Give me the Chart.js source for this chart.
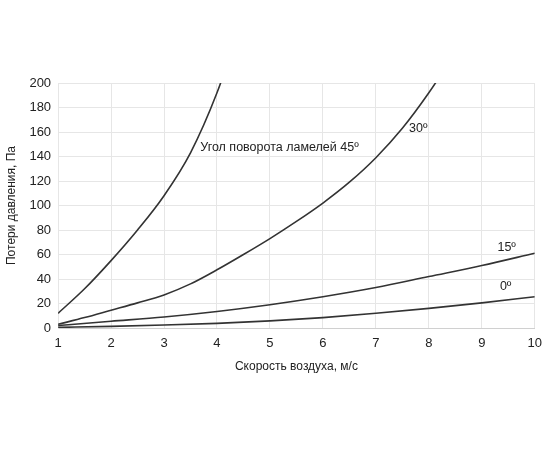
<!DOCTYPE html>
<html><head><meta charset="utf-8">
<script src="https://cdn.jsdelivr.net/npm/chart.js@4/dist/chart.umd.min.js"></script>
<style>html,body{margin:0;padding:0;background:#fff}#wrap{width:550px;height:450px}</style>
</head><body><div id="wrap"><canvas id="c"></canvas></div>
<script>
const xTicks = [1,2,3,4,5,6,7,8,9,10];
const yTicks = [0,20,40,60,80,100,120,140,160,180,200];

const x45 = [1, 1.5, 2, 2.5, 3, 3.5, 4, 4.5];
const y45 = [12, 32, 55, 80, 108, 143, 192, 255];

const x30 = [1, 1.5, 2, 2.5, 3, 3.5, 4, 4.5, 5, 5.5, 6, 6.5, 7, 7.5, 8, 8.5];
const y30 = [3, 8.5, 14.5, 20.5, 27, 36, 47.5, 60, 73, 87, 102, 119, 139, 163, 192, 225];

const x15 = [1, 2, 3, 4, 5, 6, 7, 8, 9, 10];
const y15 = [2, 5.5, 9, 13.5, 19, 25.5, 33, 42, 51, 61];

const x0 = [1, 2, 3, 4, 5, 6, 7, 8, 9, 10];
const y0 = [0.5, 1.3, 2.4, 3.8, 5.8, 8.5, 12, 16, 20.5, 25.5];

const curveLabels = ["Угол поворота ламелей 45º", "30º", "15º", "0º"];
const labelX = [5.18, 7.8, 9.47, 9.45];
const labelY = [147, 163, 66, 34];

const xTitle = "Скорость воздуха, м/с";
const yTitle = "Потери давления, Па";

const FONT = '"Liberation Sans", Arial, sans-serif';
function pts(xs, ys){ return xs.map((x,i)=>({x:x, y:ys[i]})); }
const lineStyle = {borderColor:'#333', borderWidth:1.6, pointRadius:0, fill:false, showLine:true, cubicInterpolationMode:'monotone'};

const labelPlugin = {
  id:'curveLabels',
  afterDatasetsDraw(chart){
    const ctx = chart.ctx, xs = chart.scales.x, ys = chart.scales.y;
    ctx.save();
    ctx.fillStyle = '#222';
    ctx.font = '12.5px ' + FONT;
    ctx.textAlign = 'center';
    ctx.textBaseline = 'middle';
    curveLabels.forEach((t,i)=>{
      ctx.fillText(t, xs.getPixelForValue(labelX[i]), ys.getPixelForValue(labelY[i]));
    });
    ctx.restore();
  }
};

new Chart(document.getElementById('c'), {
  type:'scatter',
  data:{datasets:[
    Object.assign({data:pts(x45,y45)}, lineStyle),
    Object.assign({data:pts(x30,y30)}, lineStyle),
    Object.assign({data:pts(x15,y15)}, lineStyle),
    Object.assign({data:pts(x0,y0)}, lineStyle)
  ]},
  options:{
    responsive:true, maintainAspectRatio:false, animation:false,
    layout:{padding:{top:83, right:8, bottom:76, left:4}},
    plugins:{legend:{display:false}, tooltip:{enabled:false}},
    scales:{
      x:{type:'linear', min:1, max:10,
        afterBuildTicks(s){ s.ticks = xTicks.map(v=>({value:v})); },
        grid:{color:'#e6e6e6', drawTicks:false},
        border:{color:'#d0d0d0'},
        ticks:{color:'#222', padding:8, font:{size:13, family:FONT}},
        title:{display:true, text:xTitle, color:'#222', padding:{top:0, bottom:0}, font:{size:12, family:FONT}}
      },
      y:{type:'linear', min:0, max:200,
        afterBuildTicks(s){ s.ticks = yTicks.map(v=>({value:v})); },
        grid:{color:'#e6e6e6', drawTicks:false},
        border:{color:'#e6e6e6'},
        ticks:{color:'#222', padding:7, font:{size:13, family:FONT}},
        title:{display:true, text:yTitle, color:'#222', padding:{bottom:4, top:0}, font:{size:12, family:FONT}}
      }
    }
  },
  plugins:[labelPlugin]
});
</script></body></html>
